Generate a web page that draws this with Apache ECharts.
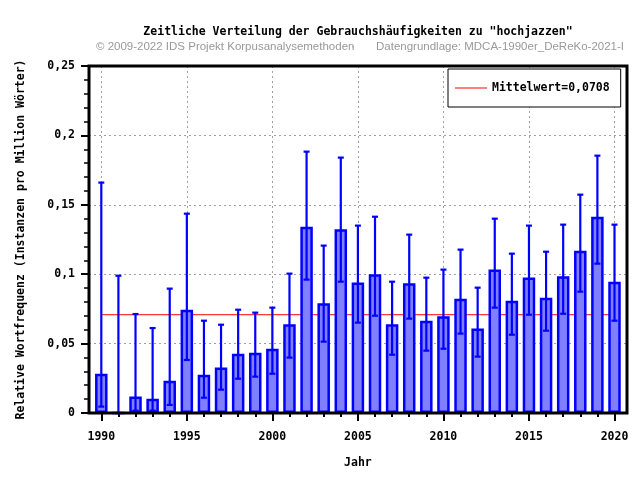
<!DOCTYPE html>
<html>
<head>
<meta charset="utf-8">
<script src="https://cdn.jsdelivr.net/npm/echarts@6/dist/echarts.min.js"></script>
<style>html,body{margin:0;padding:0;background:#fff;}#c{width:640px;height:480px;}</style>
</head>
<body>
<div id="c"></div>
<script>
const years = [1990,1991,1992,1993,1994,1995,1996,1997,1998,1999,2000,2001,2002,2003,2004,2005,2006,2007,2008,2009,2010,2011,2012,2013,2014,2015,2016,2017,2018,2019,2020];
const values = [0.0283,0,0.0118,0.0103,0.0233,0.0744,0.0276,0.0327,0.0427,0.0434,0.0463,0.0639,0.1342,0.0790,0.1323,0.0941,0.0999,0.0639,0.0934,0.0665,0.0697,0.0824,0.0608,0.1033,0.0809,0.0977,0.0831,0.0985,0.1169,0.1414,0.0946];
const upper = [0.166,0.0989,0.0713,0.0612,0.0896,0.1436,0.0665,0.0636,0.0744,0.0723,0.0759,0.1004,0.1883,0.1206,0.1840,0.1350,0.1414,0.0946,0.1285,0.0975,0.1033,0.1177,0.0903,0.1400,0.1148,0.1350,0.1162,0.1357,0.1573,0.1854,0.1357];
const lower = [0.0046,0,0.0017,0.0017,0.0058,0.0382,0.0110,0.0168,0.0247,0.0262,0.0283,0.0399,0.0961,0.0514,0.0946,0.0651,0.0701,0.0420,0.0680,0.0449,0.0463,0.0572,0.0406,0.0759,0.0564,0.0708,0.0593,0.0715,0.0874,0.1076,0.0665];
const meanValue = 0.0708;
const meanLabel = 'Mittelwert=0,0708';
const titleText = 'Zeitliche Verteilung der Gebrauchshäufigkeiten zu "hochjazzen"';
const subLeft = '© 2009-2022 IDS Projekt Korpusanalysemethoden';
const subRight = 'Datengrundlage: MDCA-1990er_DeReKo-2021-I';
const yName = 'Relative Wortfrequenz (Instanzen pro Million Wörter)';
const xName = 'Jahr';

const mono = '"DejaVu Sans Mono", "Liberation Mono", monospace';
const narrow = '"Liberation Sans Narrow", "Liberation Sans", Arial, sans-serif';
const gridDash = {show: true, lineStyle: {color: '#a0a0a0', type: [2, 3], width: 1}};

const chart = echarts.init(document.getElementById('c'), null, {renderer: 'canvas'});
chart.setOption({
  animation: false,
  backgroundColor: '#fff',
  title: [
    {text: titleText, left: 358, top: 26, textAlign: 'center', padding: 0,
     textStyle: {fontFamily: mono, fontWeight: 'bold', fontSize: 11.5, color: '#000'}},
    {text: subLeft, left: 96, top: 41, padding: 0,
     textStyle: {fontFamily: narrow, fontWeight: 'normal', fontSize: 11.5, color: '#999'}},
    {text: '·', left: 351, top: 41, padding: 0,
     textStyle: {fontFamily: narrow, fontWeight: 'normal', fontSize: 11.5, color: '#999'}},
    {text: subRight, left: 376, top: 41, padding: 0,
     textStyle: {fontFamily: narrow, fontWeight: 'normal', fontSize: 11.5, color: '#999'}}
  ],
  legend: {
    data: [{name: meanLabel, icon: 'rect'}], left: 448, top: 69, orient: 'vertical',
    padding: [12, 11, 12, 7], itemWidth: 32, itemHeight: 1,
    borderColor: '#000', borderWidth: 1, backgroundColor: '#fff',
    textStyle: {fontFamily: mono, fontWeight: 'bold', fontSize: 11.5, color: '#000', lineHeight: 14}
  },
  grid: [
    {left: 89, right: 13, top: 66, bottom: 67, show: true, borderColor: '#000', borderWidth: 3, backgroundColor: 'transparent', z: 10},
    {left: 101.3, right: 25.5, top: 66, bottom: 67}
  ],
  xAxis: [
    {gridIndex: 0, type: 'value', min: 0, max: 1, show: false},
    {gridIndex: 1, type: 'value', position: 'bottom', min: 1990, max: 2020, interval: 1,
     axisLine: {show: false}, axisLabel: {show: false}, splitLine: {show: false},
     axisTick: {show: true, length: 4, lineStyle: {color: '#000', width: 2}}},
    {gridIndex: 1, type: 'value', position: 'bottom', offset: 0, min: 1990, max: 2020, interval: 5,
     name: xName, nameLocation: 'middle', nameGap: 44,
     nameTextStyle: {fontFamily: mono, fontWeight: 'bold', fontSize: 11.5, color: '#000'},
     axisLine: {show: false},
     axisTick: {show: true, length: 8, lineStyle: {color: '#000', width: 2}},
     axisLabel: {margin: 18, fontFamily: mono, fontWeight: 'bold', fontSize: 11.5, color: '#000',
       formatter: v => String(Math.round(v))},
     splitLine: gridDash}
  ],
  yAxis: [
    {gridIndex: 0, type: 'value', min: 0, max: 0.25, interval: 0.05,
     name: yName, nameLocation: 'middle', nameGap: 62,
     nameTextStyle: {fontFamily: mono, fontWeight: 'bold', fontSize: 11.5, color: '#000'},
     axisLine: {show: false},
     axisTick: {show: true, length: 8, lineStyle: {color: '#000', width: 2}},
     minorTick: {show: true, splitNumber: 5, length: 5, lineStyle: {color: '#000', width: 1.5}},
     axisLabel: {margin: 14, fontFamily: mono, fontWeight: 'bold', fontSize: 11.5, color: '#000',
       formatter: v => v === 0 ? '0' : String(parseFloat(v.toFixed(4))).replace('.', ',')},
     splitLine: gridDash},
    {gridIndex: 1, type: 'value', min: 0, max: 0.25, show: false}
  ],
  series: [
    {name: meanLabel, type: 'line', xAxisIndex: 1, yAxisIndex: 1, z: 1,
     symbol: 'none', lineStyle: {color: '#ff0000', width: 1}, itemStyle: {color: '#ff0000'},
     data: [[years[0], meanValue], [years[years.length - 1], meanValue]]},
    {name: 'Wortfrequenz', type: 'bar', xAxisIndex: 1, yAxisIndex: 1, z: 2, clip: false,
     barWidth: 12.5,
     itemStyle: {color: '#8080ff', borderColor: '#0000ff', borderWidth: 2.5},
     data: years.map((y, i) => [y, values[i]])},
    {name: 'Konfidenz', type: 'custom', xAxisIndex: 1, yAxisIndex: 1, z: 3, clip: false,
     renderItem: function (params, api) {
       const x = api.value(0), lo = api.value(1), hi = api.value(2);
       const pHi = api.coord([x, hi]);
       const pLo = api.coord([x, lo]);
       const cap = 3;
       const st = {stroke: '#0000ff', lineWidth: 2.2};
       return {type: 'group', children: [
         {type: 'line', shape: {x1: pHi[0], y1: pHi[1], x2: pLo[0], y2: pLo[1]}, style: st},
         {type: 'line', shape: {x1: pHi[0] - cap, y1: pHi[1], x2: pHi[0] + cap, y2: pHi[1]}, style: st},
         {type: 'line', shape: {x1: pLo[0] - cap, y1: pLo[1], x2: pLo[0] + cap, y2: pLo[1]}, style: st}
       ]};
     },
     encode: {x: 0, y: [1, 2]},
     data: years.map((y, i) => [y, lower[i], upper[i]])}
  ]
});
</script>
</body>
</html>
